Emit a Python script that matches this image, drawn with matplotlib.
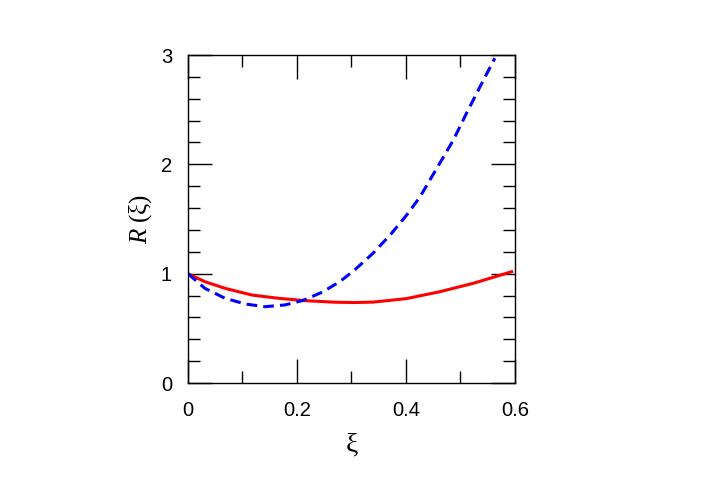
import matplotlib
matplotlib.use("Agg")
import matplotlib.pyplot as plt
from matplotlib.ticker import MultipleLocator

# red solid curve
xi_red = [0.0, 0.031, 0.068, 0.117, 0.166, 0.215, 0.27, 0.306, 0.34, 0.401, 0.462, 0.5235, 0.594]
R_red = [1.0, 0.927, 0.866, 0.805, 0.775, 0.753, 0.739, 0.736, 0.740, 0.772, 0.835, 0.912, 1.018]

# blue dashed curve
xi_blue = [0.0, 0.031, 0.068, 0.105, 0.141, 0.178, 0.209, 0.2207, 0.248, 0.279, 0.305, 0.34,
           0.371, 0.404, 0.426, 0.462, 0.487, 0.511, 0.536, 0.563]
R_blue = [1.0, 0.866, 0.775, 0.723, 0.698, 0.714, 0.753, 0.775, 0.835, 0.929, 1.03, 1.189,
          1.354, 1.553, 1.705, 2.01, 2.223, 2.467, 2.711, 2.971]

plt.rcParams["mathtext.fontset"] = "custom"
plt.rcParams["mathtext.rm"] = "Liberation Serif"
plt.rcParams["mathtext.it"] = "Liberation Serif:italic"

fig = plt.figure(figsize=(7.04, 4.93), dpi=100)
ax = fig.add_axes([0.267, 0.2231, 0.4645, 0.6653])

ax.plot(xi_red, R_red, color="#ff0000", lw=2.2, solid_joinstyle="round")
ax.plot(xi_blue, R_blue, color="#0000ff", lw=2.2, dashes=(3.5, 2.0))

ax.set_xlim(0, 0.6)
ax.set_ylim(0, 3)
ax.xaxis.set_minor_locator(MultipleLocator(0.1))
ax.yaxis.set_major_locator(MultipleLocator(1))
ax.yaxis.set_minor_locator(MultipleLocator(0.2))
ax.set_xticks([0, 0.2, 0.4, 0.6])
ax.set_xticklabels(["0", "0.2", "0.4", "0.6"])

ax.tick_params(which="both", direction="in", top=True, right=True, width=1.0,
               labelsize=14.5, colors="black")
ax.tick_params(which="major", length=17)
ax.tick_params(axis="x", which="major", pad=13)
ax.tick_params(axis="y", which="major", pad=11.5)
ax.tick_params(which="minor", length=8.5)
for lab in ax.get_xticklabels() + ax.get_yticklabels():
    lab.set_fontfamily("Liberation Sans")
for s in ax.spines.values():
    s.set_linewidth(1.0)

ax.set_xlabel(r"$\mathrm{\xi}$", fontsize=20, labelpad=8)
ax.set_ylabel(r"$R\ (\mathrm{\xi})$", fontsize=18, labelpad=5)

fig.savefig("out.png", dpi=100)
